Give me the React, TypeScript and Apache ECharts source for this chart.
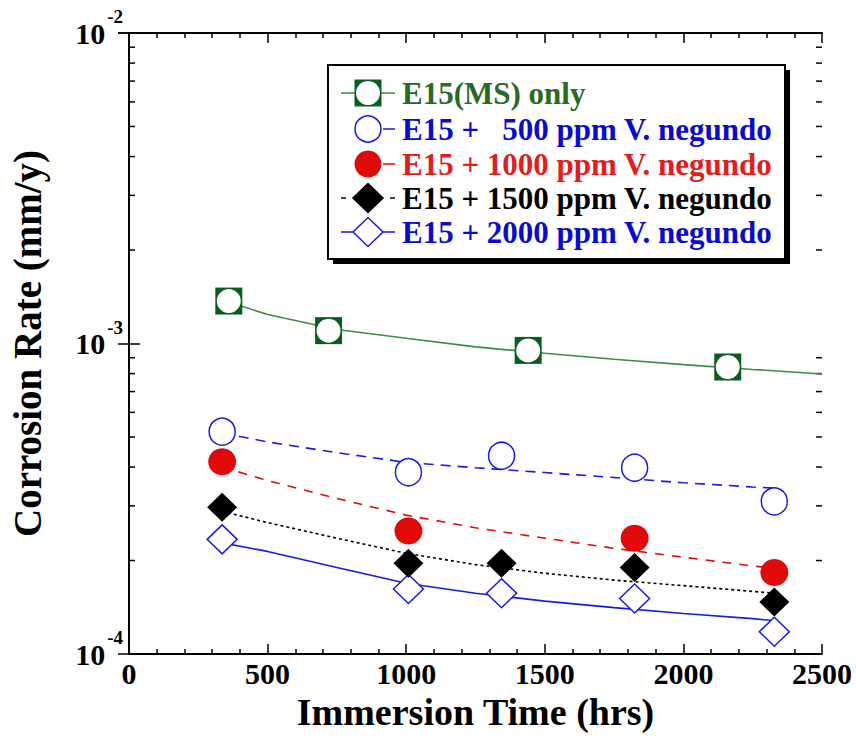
import React, { useEffect, useRef } from "react";
import * as echarts from "echarts";

const FONT = "Liberation Serif, Times New Roman, serif";

// Axis ranges / ticks
const X_MIN = 0;
const X_MAX = 2500;
const X_INTERVAL = 500;
const Y_MIN = 1e-4;
const Y_MAX = 1e-2;
const Y_MINOR = [2e-4, 3e-4, 4e-4, 5e-4, 6e-4, 7e-4, 8e-4, 9e-4, 2e-3, 3e-3, 4e-3, 5e-3, 6e-3, 7e-3, 8e-3, 9e-3];

// Measured data
const MS_X = [360, 720, 1440, 2160];
const MS_Y = [1.37e-3, 1.1e-3, 9.5e-4, 8.4e-4];
const VN_X = [336, 1008, 1344, 1824, 2328];
const VN500_Y = [5.2e-4, 3.85e-4, 4.35e-4, 3.98e-4, 3.1e-4];
const VN1000_X = [336, 1008, 1824, 2328];
const VN1000_Y = [4.16e-4, 2.49e-4, 2.36e-4, 1.83e-4];
const VN1500_Y = [2.97e-4, 1.96e-4, 1.96e-4, 1.9e-4, 1.47e-4];
const VN2000_Y = [2.34e-4, 1.62e-4, 1.57e-4, 1.51e-4, 1.18e-4];

// Fitted curves
const FIT_MS_X = [360, 500, 750, 1000, 1250, 1500, 1750, 2000, 2250, 2500];
const FIT_MS_Y = [1.36e-3, 1.24e-3, 1.11e-3, 1.04e-3, 9.75e-4, 9.3e-4, 8.9e-4, 8.55e-4, 8.25e-4, 7.98e-4];
const FIT_X = [336, 500, 750, 1000, 1250, 1500, 1750, 2000, 2250, 2330];
const FIT_500_Y = [5.15e-4, 4.82e-4, 4.45e-4, 4.14e-4, 3.98e-4, 3.84e-4, 3.7e-4, 3.56e-4, 3.45e-4, 3.42e-4];
const FIT_1000_Y = [4.0e-4, 3.62e-4, 3.17e-4, 2.8e-4, 2.55e-4, 2.36e-4, 2.19e-4, 2.05e-4, 1.92e-4, 1.89e-4];
const FIT_1500_Y = [2.88e-4, 2.65e-4, 2.36e-4, 2.11e-4, 1.94e-4, 1.82e-4, 1.73e-4, 1.66e-4, 1.59e-4, 1.57e-4];
const FIT_2000_Y = [2.28e-4, 2.14e-4, 1.9e-4, 1.69e-4, 1.57e-4, 1.48e-4, 1.41e-4, 1.35e-4, 1.3e-4, 1.28e-4];

const LEGEND_NAMES = [
  "E15(MS) only",
  "E15 +\u00a0\u00a0\u00a0500 ppm V. negundo",
  "E15 + 1000 ppm V. negundo",
  "E15 + 1500 ppm V. negundo",
  "E15 + 2000 ppm V. negundo",
];

const C_GREEN_MARK = "#0b5d1e";
const C_GREEN_LINE = "#3d8b4a";
const C_GREEN_TEXT = "#2a6a24";
const C_BLUE = "#1a1ae6";
const C_BLUE_TEXT = "#0a0ad0";
const C_RED = "#e00a0a";
const C_RED_TEXT = "#e41c1c";

const zip = (xs: number[], ys: number[]) => xs.map((x, i) => [x, ys[i]]);

export default function App() {
  const ref = useRef<HTMLDivElement>(null);
  useEffect(() => {
    document.body.style.margin = "0";
    if (!ref.current) return;
    const chart = echarts.init(ref.current, null, { renderer: "svg" });
    const axisLine = { show: true, lineStyle: { color: "#000", width: 2 } };
    const tickStyle = { color: "#000", width: 1.5 };
    const labelBase = { color: "#000", fontFamily: FONT, fontWeight: "bold" as const };

    const lineSeries = (data: number[][], color: string, type: any) => ({
      type: "line",
      data,
      showSymbol: false,
      symbol: "none",
      lineStyle: { color, width: 1.6, type },
      z: 2,
      silent: true,
    });
    const scatter = (data: number[][], symbol: string, size: any, color: string, stroke?: string, z = 4) => ({
      type: "scatter",
      data,
      symbol,
      symbolSize: size,
      itemStyle: stroke
        ? { color, borderColor: stroke, borderWidth: 1.5, opacity: 1 }
        : { color, opacity: 1 },
      z,
      silent: true,
    });

    const lx1 = 341, lx2 = 395, cx = 368, tx = 402;
    const rows = [93, 129, 164, 198, 232];
    const TEXT_COLORS = [C_GREEN_TEXT, C_BLUE_TEXT, C_RED_TEXT, "#000", C_BLUE_TEXT];
    const titles = LEGEND_NAMES.map((name, i) => ({
      text: name,
      left: tx,
      top: rows[i] - 16,
      padding: 0,
      z: 110,
      textStyle: {
        color: TEXT_COLORS[i],
        fontSize: 31,
        fontWeight: "bold",
        fontFamily: FONT,
        lineHeight: 32,
      },
    }));
    const diamond = (y: number, fill: string, stroke: string) => ({
      type: "polygon",
      shape: { points: [[cx, y - 14.5], [cx + 15, y], [cx, y + 14.5], [cx - 15, y]] },
      style: { fill, stroke, lineWidth: 1.5 },
      z: 102,
    });
    const seg = (x1: number, x2: number, y: number, color: string) => ({
      type: "line",
      shape: { x1, y1: y, x2, y2: y },
      style: { stroke: color, lineWidth: 1.5 },
      z: 101,
    });

    chart.setOption({
      animation: false,
      backgroundColor: "#fff",
      title: titles,
      grid: { left: 129, top: 33, right: 34, bottom: 95 },
      xAxis: [
        {
          type: "value",
          min: X_MIN,
          max: X_MAX,
          interval: X_INTERVAL,
          position: "bottom",
          axisLine,
          axisTick: { show: true, inside: true, length: 10, lineStyle: tickStyle },
          minorTick: { show: true, splitNumber: 5, length: 5, lineStyle: tickStyle },
          splitLine: { show: false },
          axisLabel: { ...labelBase, fontSize: 30, margin: 4, formatter: (v: number) => String(v) },
          name: "Immersion Time (hrs)",
          nameLocation: "middle",
          nameGap: 36,
          nameTextStyle: { ...labelBase, fontSize: 38 },
        },
        {
          type: "value",
          min: X_MIN,
          max: X_MAX,
          interval: X_INTERVAL,
          position: "top",
          axisLine,
          axisTick: { show: true, inside: true, length: 10, lineStyle: tickStyle },
          minorTick: { show: true, splitNumber: 5, length: 5, lineStyle: tickStyle },
          splitLine: { show: false },
          axisLabel: { show: false },
        },
      ],
      yAxis: [
        {
          type: "log",
          logBase: 10,
          min: Y_MIN,
          max: Y_MAX,
          position: "left",
          axisLine,
          axisTick: { show: true, inside: true, length: 11, lineStyle: tickStyle },
          splitLine: { show: false },
          axisLabel: {
            ...labelBase,
            margin: 6,
            formatter: (v: number) => `{b|10}{s|${Math.round(Math.log10(v))}}`,
            rich: {
              b: { fontSize: 30, fontWeight: "bold", fontFamily: FONT, color: "#000", lineHeight: 52, verticalAlign: "middle" },
              s: { fontSize: 19, fontWeight: "bold", fontFamily: FONT, color: "#000", lineHeight: 19, verticalAlign: "top", padding: [0, 0, 0, 2] },
            },
          },
          name: "Corrosion Rate (mm/y)",
          nameLocation: "middle",
          nameRotate: 90,
          nameGap: 82,
          nameTextStyle: { ...labelBase, fontSize: 39 },
        },
        {
          type: "log",
          logBase: 10,
          min: Y_MIN,
          max: Y_MAX,
          position: "right",
          axisLine,
          axisTick: { show: true, inside: true, length: 11, lineStyle: tickStyle },
          splitLine: { show: false },
          axisLabel: { show: false },
        },
      ],
      series: [
        {
          type: "custom",
          data: Y_MINOR.map((v) => [X_MIN, v]),
          renderItem: (_p: any, api: any) => {
            const v = api.value(1);
            const l = api.coord([X_MIN, v]);
            const r = api.coord([X_MAX, v]);
            return {
              type: "group",
              children: [
                { type: "line", shape: { x1: l[0], y1: l[1], x2: l[0] + 6, y2: l[1] }, style: { stroke: "#000", lineWidth: 1.5 } },
                { type: "line", shape: { x1: r[0] - 6, y1: r[1], x2: r[0], y2: r[1] }, style: { stroke: "#000", lineWidth: 1.5 } },
              ],
            };
          },
          silent: true,
          z: 1,
        },
        lineSeries(zip(FIT_MS_X, FIT_MS_Y), C_GREEN_LINE, "solid"),
        lineSeries(zip(FIT_X, FIT_500_Y), C_BLUE, [10, 7]),
        lineSeries(zip(FIT_X, FIT_1000_Y), C_RED, [9, 8]),
        lineSeries(zip(FIT_X, FIT_1500_Y), "#000", [3, 3]),
        lineSeries(zip(FIT_X, FIT_2000_Y), C_BLUE, "solid"),
        scatter(zip(MS_X, MS_Y), "rect", 27, C_GREEN_MARK, undefined, 4),
        scatter(zip(MS_X, MS_Y), "circle", 24, "#fff", undefined, 5),
        scatter(zip(VN_X, VN500_Y), "circle", [26, 27], "#fff", C_BLUE, 4),
        scatter(zip(VN1000_X, VN1000_Y), "circle", [28, 27], C_RED, undefined, 4),
        scatter(zip(VN_X, VN2000_Y), "diamond", [30, 29], "#fff", C_BLUE, 4),
        scatter(zip(VN_X, VN1500_Y), "diamond", [30, 29], "#000", undefined, 5),
      ],
      graphic: [
        { type: "rect", shape: { x: 333, y: 70, width: 457, height: 194 }, style: { fill: "#000" }, z: 99 },
        { type: "rect", shape: { x: 328, y: 65, width: 457, height: 194 }, style: { fill: "#fff", stroke: "#000", lineWidth: 2 }, z: 100 },
        // row 1
        seg(lx1, lx2, rows[0], C_GREEN_LINE),
        { type: "rect", shape: { x: cx - 13.5, y: rows[0] - 13.5, width: 27, height: 27 }, style: { fill: C_GREEN_MARK }, z: 102 },
        { type: "circle", shape: { cx, cy: rows[0], r: 12 }, style: { fill: "#fff" }, z: 103 },
        // row 2
        seg(383, lx2, rows[1], C_BLUE),
        { type: "circle", shape: { cx, cy: rows[1], r: 13 }, style: { fill: "#fff", stroke: C_BLUE, lineWidth: 1.5 }, z: 102 },
        // row 3
        seg(383, lx2, rows[2], C_RED),
        { type: "circle", shape: { cx, cy: rows[2], r: 13.5 }, style: { fill: C_RED }, z: 102 },
        // row 4
        seg(lx1, lx1 + 5, rows[3], "#000"),
        seg(lx2 - 5, lx2, rows[3], "#000"),
        diamond(rows[3], "#000", "#000"),
        // row 5
        seg(lx1, lx2, rows[4], C_BLUE),
        diamond(rows[4], "#fff", C_BLUE),
      ],
    });
    return () => chart.dispose();
  }, []);
  return <div ref={ref} style={{ width: 856, height: 749 }} />;
}
